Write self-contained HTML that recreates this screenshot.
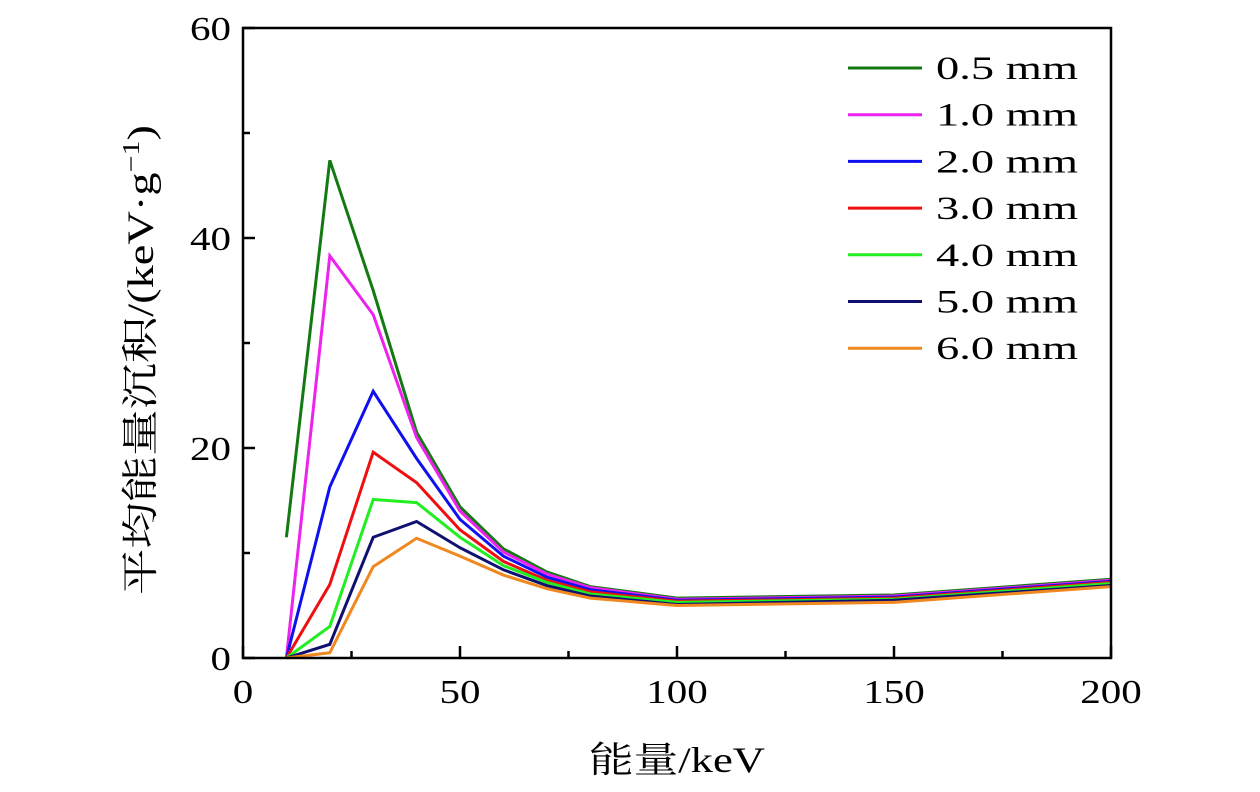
<!DOCTYPE html>
<html><head><meta charset="utf-8"><style>
body{margin:0;background:#fff;}
svg text{font-family:"Liberation Serif","Noto Serif CJK SC",serif;fill:#000;}
</style></head><body>
<svg id="chart" width="1260" height="787" xmlns="http://www.w3.org/2000/svg"></svg>
<script>
const energies=[10,20,30,40,50,60,70,80,100,150,200];
const seriesNames=["0.5 mm","1.0 mm","2.0 mm","3.0 mm","4.0 mm","5.0 mm","6.0 mm"];
const seriesColors=["#137a13","#ee22ee","#1010ee","#ee1010","#22ee22","#101070","#f08820"];
const s05=[11.5,47.4,35,21.5,14.4,10.4,8.2,6.8,5.7,6.0,7.5];
const s10=[0,38.3,32.7,21,14,10.1,8,6.7,5.6,5.9,7.4];
const s20=[0,16.3,25.4,19,13.2,9.7,7.7,6.5,5.5,5.8,7.3];
const s30=[0,7,19.6,16.7,12.2,9.2,7.4,6.3,5.4,5.7,7.2];
const s40=[0,3,15.1,14.8,11.5,8.8,7.2,6.1,5.3,5.6,7.1];
const s50=[0,1.3,11.5,13,10.5,8.4,6.9,5.9,5.1,5.5,6.9];
const s60=[0,0.5,8.7,11.4,9.7,7.9,6.6,5.7,5.0,5.3,6.8];
const xTicks=[0,50,100,150,200];
const yTicks=[0,20,40,60];
const allSeries=[s05,s10,s20,s30,s40,s50,s60];
const L=243,R=1111,T=28,B=658;
const xs=v=>L+(v/200)*(R-L);
const ys=v=>B-(v/60)*(B-T);
const svg=document.getElementById('chart');
const NS="http://www.w3.org/2000/svg";
function mk(tag,attrs,parent){const e=document.createElementNS(NS,tag);for(const k in attrs)e.setAttribute(k,attrs[k]);(parent||svg).appendChild(e);return e;}
allSeries.forEach((s,i)=>{
  const p=mk('polyline',{points:s.map((v,j)=>xs(energies[j])+','+ys(v)).join(' '),fill:'none',stroke:seriesColors[i],'stroke-width':3,'stroke-linejoin':'miter'});
  
  
});
const fr=mk('rect',{x:L,y:T,width:R-L,height:B-T,fill:'none',stroke:'#000','stroke-width':2.5});


for(let v=0;v<=200;v+=25){const major=v%50===0;const len=major?12:7;
  mk('line',{x1:xs(v),x2:xs(v),y1:B,y2:B-len,stroke:'#000','stroke-width':2.5});}
for(let v=0;v<=60;v+=10){const major=v%20===0;const len=major?12:7;
  mk('line',{x1:L,x2:L+len,y1:ys(v),y2:ys(v),stroke:'#000','stroke-width':2.5});}
xTicks.forEach(v=>{const t=mk('text',{x:xs(v),y:B+45,'text-anchor':'middle','font-size':34,textLength:String(v).length*20.5,lengthAdjust:'spacingAndGlyphs'});t.textContent=v;
  });
yTicks.forEach(v=>{const t=mk('text',{x:L-12,y:ys(v)+12,'text-anchor':'end','font-size':34,textLength:String(v).length*20.5,lengthAdjust:'spacingAndGlyphs'});t.textContent=v;
  });
const xt=mk('text',{x:677,y:772,'text-anchor':'middle','font-size':36,textLength:176,lengthAdjust:'spacingAndGlyphs'});xt.textContent='能量/keV';

const yt=mk('text',{x:0,y:0,'font-size':37,transform:'translate(153,595) rotate(-90)',textLength:470,lengthAdjust:'spacingAndGlyphs'});
yt.innerHTML='平均能量沉积/(keV·g<tspan dy="-14" font-size="24">−1</tspan><tspan dy="14">)</tspan>';

seriesNames.forEach((n,i)=>{const y=68+i*46.7;
  const g=mk('g',{});
  
  mk('line',{x1:848,x2:922,y1:y,y2:y,stroke:seriesColors[i],'stroke-width':3},g);
  const t=mk('text',{x:936,y:y+11,'font-size':33,textLength:142,lengthAdjust:'spacingAndGlyphs'},g);t.textContent=n;});
</script>
</body></html>
